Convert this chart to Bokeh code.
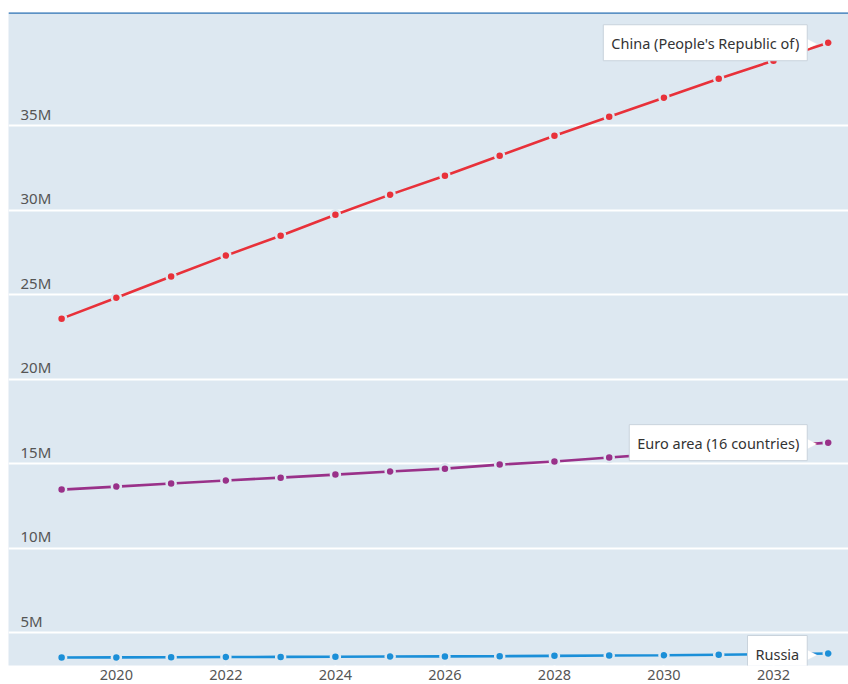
import math
from bokeh.plotting import figure
from bokeh.models import FixedTicker, Span, Label, ColumnDataSource
from bokeh.core.properties import value
from bokeh.embed import file_html
from bokeh.resources import INLINE

# Projected values by year (millions)
years = list(range(2019, 2034))
china = [23.58, 24.82, 26.07, 27.31, 28.49, 29.73, 30.92, 32.04, 33.22, 34.41,
         35.53, 36.66, 37.78, 38.85, 39.91]
euro_area = [13.46, 13.64, 13.82, 14.00, 14.17, 14.35, 14.53, 14.70, 14.94, 15.12,
             15.36, 15.59, 15.83, 16.00, 16.24]
russia = [3.52, 3.53, 3.54, 3.55, 3.56, 3.57, 3.58, 3.59, 3.60, 3.62,
          3.64, 3.66, 3.69, 3.72, 3.76]

series_names = ["China (People's Republic of)", "Euro area (16 countries)", "Russia"]
series_values = [china, euro_area, russia]
series_colors = ["#e8313a", "#993189", "#1b8fd8"]

y_ticks = [5e6, 10e6, 15e6, 20e6, 25e6, 30e6, 35e6]
y_tick_labels = ["5M", "10M", "15M", "20M", "25M", "30M", "35M"]
x_ticks = [2020, 2022, 2024, 2026, 2028, 2030, 2032]

BG = "#dde8f1"
FONT = "Noto Sans"
X_START, X_END = 2018.03, 2033.37
Y_START, Y_END = 3.05e6, 41.7e6

p = figure(width=848, height=684, output_backend="svg", toolbar_location=None,
           x_range=(X_START, X_END), y_range=(Y_START, Y_END),
           min_border_left=8, min_border_right=0, min_border_top=12,
           min_border_bottom=19)
p.background_fill_color = BG
p.border_fill_color = "white"
p.outline_line_color = None

p.yaxis.visible = False
p.ygrid.ticker = FixedTicker(ticks=y_ticks)
p.ygrid.grid_line_color = "white"
p.ygrid.grid_line_width = 2
p.xgrid.visible = False

ax = p.xaxis[0]
ax.ticker = FixedTicker(ticks=x_ticks)
ax.axis_line_color = None
ax.major_tick_line_color = "white"
ax.major_tick_line_width = 2
ax.major_tick_in = 0
ax.major_tick_out = 3
ax.minor_tick_line_color = None
ax.major_label_standoff = 1
ax.major_label_text_font = FONT
ax.major_label_text_font_size = "14.5px"
ax.major_label_text_color = "#555555"

# Top rule of the chart
p.add_layout(Span(location=Y_END, dimension="width", line_color="#2f74b5", line_width=2.5))

# Value labels sitting above each gridline, inside the plot
ysrc = ColumnDataSource(dict(x=[X_START] * len(y_ticks), y=y_ticks, t=y_tick_labels))
p.text(x="x", y="y", text="t", source=ysrc, x_offset=12, y_offset=-2,
       text_baseline="bottom", text_align="left", text_font=value(FONT),
       text_font_size="15px", text_color="#555555")

for name, vals, color in zip(series_names, series_values, series_colors):
    ys = [v * 1e6 for v in vals]
    p.line(years, ys, line_color=color, line_width=2.6)
    p.scatter(years, ys, size=9, fill_color=color, line_color=BG, line_width=2.5)

    # callout pointer and box at the last point
    psrc = ColumnDataSource(dict(x=[years[-1]], y=[ys[-1]], t=["\u25B6"]))
    p.text(x="x", y="y", text="t", source=psrc, x_offset=-23, y_offset=0,
           text_align="left", text_baseline="middle", text_color="white",
           text_font=value("DejaVu Sans"), text_font_size="15px")
    p.add_layout(Label(x=years[-1], y=ys[-1], text=name, x_offset=-21,
                       text_align="right", text_baseline="middle",
                       text_font=FONT, text_font_size="14.5px", text_color="#333333",
                       background_fill_color="white", border_line_color="#c9d3dc",
                       border_line_width=1, padding=8))

open("out.html", "w").write(file_html(p, INLINE))
